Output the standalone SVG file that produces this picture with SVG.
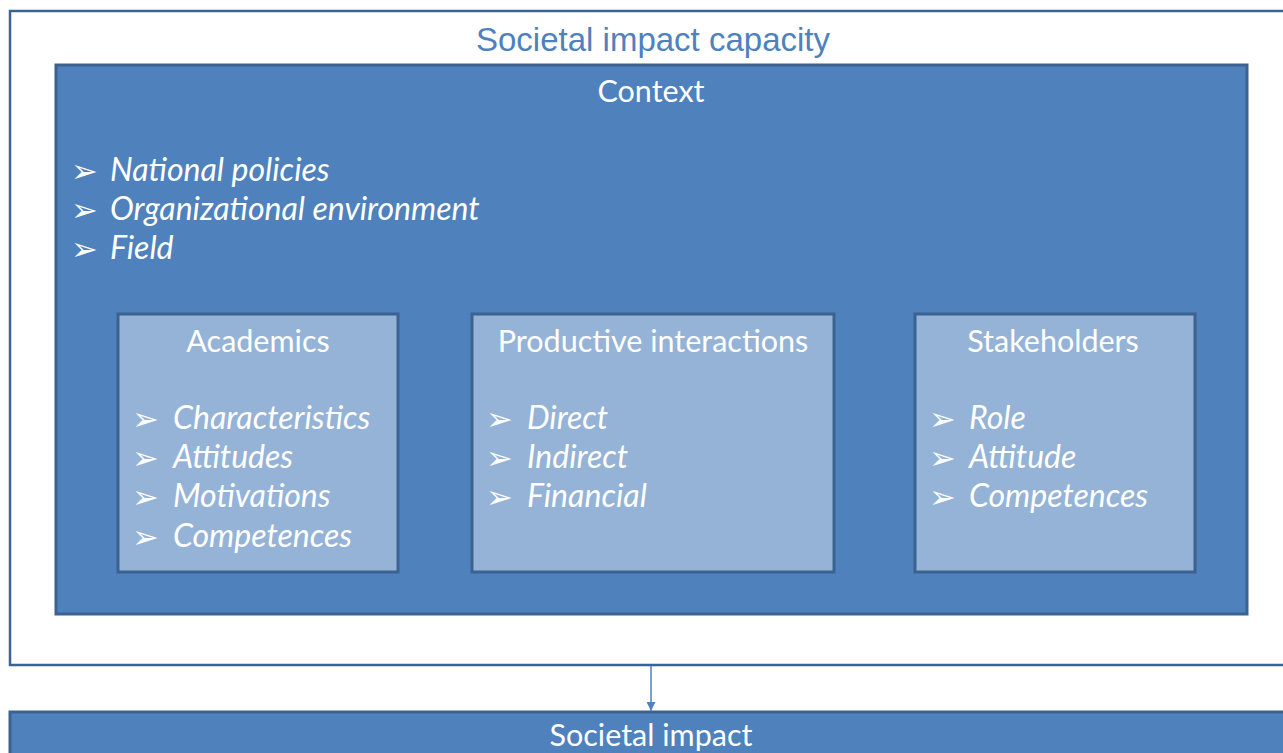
<svg xmlns="http://www.w3.org/2000/svg" width="1283" height="753" viewBox="0 0 1283 753">
<style>
.outer{fill:#ffffff;stroke:#3A6395;stroke-width:2.5}
.ctx{fill:#4F81BD;stroke:#3B6290;stroke-width:3}
.inner{fill:#95B3D7;stroke:#3B6290;stroke-width:3}
.title{font-family:"Liberation Sans",Arial,sans-serif;font-size:33px;fill:#4F81BD;text-anchor:middle}
.head{font-family:Lato,"Open Sans",sans-serif;font-size:30.5px;fill:#ffffff;text-anchor:middle}
.item{font-family:Lato,"Open Sans",sans-serif;font-size:32px;font-style:italic;fill:#ffffff}
.bul{font-family:"DejaVu Sans",sans-serif;font-size:32px;fill:#ffffff}
.conn{stroke:#4F81BD;stroke-width:1.5;fill:none}
</style>
<defs>
<marker id="ah" viewBox="0 0 10 10" refX="10" refY="5" markerWidth="9" markerHeight="9" markerUnits="userSpaceOnUse" orient="auto">
<path d="M0,0 L10,5 L0,10 z" fill="#4F81BD"/>
</marker>
</defs>
<rect width="1283" height="753" fill="#ffffff"/>
<g id="capacity">
<rect class="outer" x="10" y="11" width="1290" height="654"/>
<text class="title" x="653" y="51">Societal impact capacity</text>
</g>
<g id="context">
<rect class="ctx" x="56" y="65" width="1191" height="549"/>
<text class="head" x="651" y="102">Context</text>
<text class="bul" x="71" y="182">➢</text>
<text class="item" x="110" y="181">National policies</text>
<text class="bul" x="71" y="221">➢</text>
<text class="item" x="110" y="220">Organizational environment</text>
<text class="bul" x="71" y="260">➢</text>
<text class="item" x="110" y="259">Field</text>
</g>
<g id="academics">
<rect class="inner" x="118" y="314" width="280" height="258"/>
<text class="head" x="258" y="352">Academics</text>
<text class="bul" x="132" y="430">➢</text>
<text class="item" x="173" y="429">Characteristics</text>
<text class="bul" x="132" y="469">➢</text>
<text class="item" x="173" y="468">Attitudes</text>
<text class="bul" x="132" y="508">➢</text>
<text class="item" x="173" y="507">Motivations</text>
<text class="bul" x="132" y="548">➢</text>
<text class="item" x="173" y="547">Competences</text>
</g>
<g id="productive">
<rect class="inner" x="472" y="314" width="362" height="258"/>
<text class="head" x="653" y="352">Productive interactions</text>
<text class="bul" x="486" y="430">➢</text>
<text class="item" x="527" y="429">Direct</text>
<text class="bul" x="486" y="469">➢</text>
<text class="item" x="527" y="468">Indirect</text>
<text class="bul" x="486" y="508">➢</text>
<text class="item" x="527" y="507">Financial</text>
</g>
<g id="stakeholders">
<rect class="inner" x="915" y="314" width="280" height="258"/>
<text class="head" x="1053" y="352">Stakeholders</text>
<text class="bul" x="929" y="430">➢</text>
<text class="item" x="969" y="429">Role</text>
<text class="bul" x="929" y="469">➢</text>
<text class="item" x="969" y="468">Attitude</text>
<text class="bul" x="929" y="508">➢</text>
<text class="item" x="969" y="507">Competences</text>
</g>
<g id="impact">
<rect class="ctx" x="10" y="712" width="1290" height="60"/>
<text class="head" x="651" y="746">Societal impact</text>
</g>
<g id="connectors">
<line class="conn" x1="651" y1="666" x2="651" y2="711" marker-end="url(#ah)"/>
</g>
</svg>
